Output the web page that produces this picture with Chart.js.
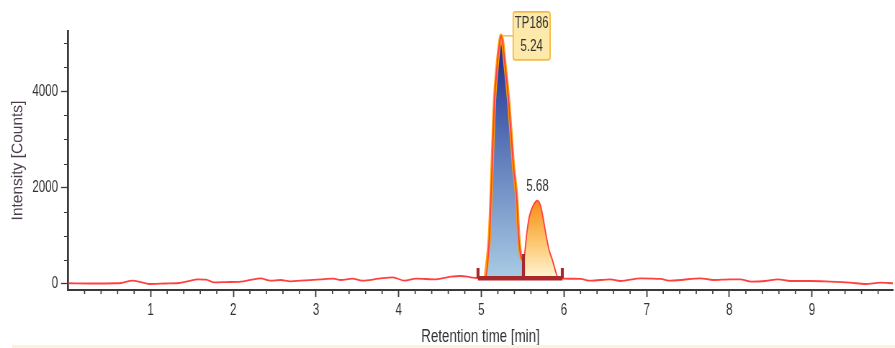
<!DOCTYPE html>
<html>
<head>
<meta charset="utf-8">
<title>Chromatogram</title>
<script src="https://cdn.jsdelivr.net/npm/chart.js@4.4.1/dist/chart.umd.min.js"></script>
<style>
  html, body { margin: 0; padding: 0; background: #ffffff; overflow: hidden; }
  #frame { position: relative; width: 895px; height: 348px; overflow: hidden; }
  #squeeze { position: absolute; left: 0; top: 0; height: 348px; transform-origin: 0 0; }
  #strip { position: absolute; left: 12px; right: 0; bottom: 0; height: 3px; background: #fbf3df; }
</style>
</head>
<body>
<div id="frame">
  <div id="squeeze"><canvas id="chart"></canvas></div>
  <div id="strip"></div>
</div>
<script>
// Retention time [min] and detector intensity [counts] of the trace
const traceTime = [0, 0.27, 0.58, 0.64, 0.78, 0.88, 0.98, 1.18, 1.34, 1.46, 1.57, 1.67, 1.76, 1.91, 2.09, 2.21, 2.33, 2.45, 2.57, 2.69, 2.81, 3.06, 3.21, 3.30, 3.44, 3.56, 3.76, 3.93, 4.07, 4.21, 4.45, 4.63, 4.75, 4.87, 4.95, 5.05, 5.10, 5.13, 5.16, 5.19, 5.22, 5.24, 5.29, 5.33, 5.36, 5.39, 5.43, 5.45, 5.48, 5.51, 5.55, 5.58, 5.64, 5.68, 5.72, 5.78, 5.82, 5.86, 5.90, 5.92, 5.96, 6.20, 6.32, 6.56, 6.68, 6.93, 7.17, 7.29, 7.41, 7.65, 7.81, 8.01, 8.13, 8.26, 8.44, 8.59, 8.74, 8.98, 9.22, 9.46, 9.65, 9.83, 9.98];
const traceIntensity = [15, 10, 15, 20, 70, 40, 0, 10, 20, 60, 95, 90, 35, 40, 50, 85, 115, 68, 83, 56, 68, 97, 110, 83, 110, 68, 110, 139, 68, 110, 97, 151, 166, 139, 124, 140, 1049, 2428, 3809, 4498, 4982, 5150, 4498, 3809, 3119, 2428, 1739, 1049, 565, 497, 1049, 1393, 1670, 1730, 1601, 1049, 704, 497, 255, 151, 118, 104, 68, 97, 62, 118, 104, 68, 83, 118, 83, 97, 97, 48, 62, 97, 62, 62, 48, 27, 0, 27, 15];

// Integrated peaks: windows on the trace, names and the integration baseline
const peakNames = ['TP186', ''];
const peakStart = [5.05, 5.51];
const peakEnd = [5.51, 5.92];
const integrationStart = [4.96, 5.51];
const integrationEnd = [5.51, 5.98];
const integrationBaseline = 120;
const integrationMarkTop = [330, 620, 330];

// Axis ticks and titles
const xTickLabels = [1, 2, 3, 4, 5, 6, 7, 8, 9];
const yTickLabels = [0, 2000, 4000];
const xTitle = 'Retention time [min]';
const yTitle = 'Intensity [Counts]';

// The plot is drawn on a wider canvas and squeezed horizontally (condensed look)
const PAGE_W = 895, PAGE_H = 348;
const SQUEEZE = 0.72;
const CANVAS_W = Math.round(PAGE_W / SQUEEZE);
const sx = v => v / SQUEEZE;          // horizontal page pixels -> canvas pixels

const FONT = "'Liberation Sans', Arial, sans-serif";
const AXIS_COLOR = '#3a3a3a';
const TEXT_COLOR = '#333333';
const Y_TITLE_COLOR = '#4a3d4c';

const squeezeBox = document.getElementById('squeeze');
squeezeBox.style.width = CANVAS_W + 'px';
squeezeBox.style.transform = 'scaleX(' + SQUEEZE + ')';
const canvas = document.getElementById('chart');
canvas.width = CANVAS_W;
canvas.height = PAGE_H;
canvas.style.width = CANVAS_W + 'px';
canvas.style.height = PAGE_H + 'px';

const trace = traceTime.map((t, i) => ({ x: t, y: traceIntensity[i] }));

function peakPoints(k) {
  return trace.filter(p => p.x >= peakStart[k] - 1e-9 && p.x <= peakEnd[k] + 1e-9);
}
function apexOf(k) {
  return peakPoints(k).reduce((a, b) => (b.y > a.y ? b : a));
}

const peakGradients = [
  [[0, '#17258a'], [0.45, '#5a76b8'], [1, '#a9cce4']],
  [[0, '#f78c14'], [0.5, '#fcc468'], [1, '#fff5d4']]
];

function peakFill(k) {
  return (ctx) => {
    const chart = ctx.chart;
    const y = chart.scales.y;
    if (!chart.chartArea || !y) return peakGradients[k][1][1];
    const top = y.getPixelForValue(apexOf(k).y);
    const bottom = y.getPixelForValue(integrationBaseline);
    const g = chart.ctx.createLinearGradient(0, top, 0, bottom);
    peakGradients[k].forEach(([s, c]) => g.addColorStop(s, c));
    return g;
  };
}

// Integration bar: one baseline plus vertical marks at each boundary
const boundaries = [integrationStart[0], integrationEnd[0], integrationEnd[1]];
const markDatasets = boundaries.map((b, i) => ({
  data: [{ x: b, y: integrationBaseline }, { x: b, y: integrationMarkTop[i] }],
  borderColor: '#a8282c',
  borderWidth: sx(3),
  borderCapStyle: 'butt',
  pointRadius: 0,
  tension: 0,
  fill: false,
  order: 0
}));

const datasets = [
  {
    data: [{ x: integrationStart[0], y: integrationBaseline }, { x: integrationEnd[1], y: integrationBaseline }],
    borderColor: '#a8282c',
    borderWidth: 4.5,
    borderCapStyle: 'butt',
    pointRadius: 0,
    tension: 0,
    fill: false,
    order: 0
  },
  ...markDatasets,
  {
    data: trace,
    borderColor: '#ff4040',
    borderWidth: 1.8,
    pointRadius: 0,
    cubicInterpolationMode: 'monotone',
    fill: false,
    order: 1
  },
  {
    data: peakPoints(0),
    borderColor: '#ff9c0a',
    borderWidth: 4.5,
    backgroundColor: peakFill(0),
    pointRadius: 0,
    cubicInterpolationMode: 'monotone',
    fill: { value: integrationBaseline },
    order: 2
  },
  {
    data: peakPoints(1),
    borderColor: 'rgba(0,0,0,0)',
    borderWidth: 0,
    backgroundColor: peakFill(1),
    pointRadius: 0,
    cubicInterpolationMode: 'monotone',
    fill: { value: integrationBaseline },
    order: 2
  }
];

// Short unlabeled ticks between the labeled ones
const minorTicks = {
  id: 'minorTicks',
  afterDraw(chart) {
    const { ctx, chartArea, scales: { x, y } } = chart;
    ctx.save();
    ctx.strokeStyle = AXIS_COLOR;
    ctx.lineWidth = sx(1.2);
    ctx.beginPath();
    for (let k = 1; k * 0.2 <= x.max + 1e-9; k++) {
      if (k % 5 === 0) continue;
      const px = x.getPixelForValue(k * 0.2);
      ctx.moveTo(px, chartArea.bottom + 1);
      ctx.lineTo(px, chartArea.bottom + 4);
    }
    ctx.stroke();
    ctx.lineWidth = 1.2;
    ctx.beginPath();
    for (let v = 500; v <= y.max; v += 500) {
      if (v % 2000 === 0) continue;
      const py = Math.round(y.getPixelForValue(v)) + 0.5;
      ctx.moveTo(chartArea.left - sx(1), py);
      ctx.lineTo(chartArea.left - sx(4), py);
    }
    ctx.stroke();
    ctx.restore();
  }
};

// Vertical axis title, drawn at natural width (undoing the horizontal squeeze)
const yAxisTitle = {
  id: 'yAxisTitle',
  afterDraw(chart) {
    const { ctx, chartArea } = chart;
    ctx.save();
    ctx.translate(sx(18), (chartArea.top + chartArea.bottom) / 2);
    ctx.scale(1 / SQUEEZE, 1);
    ctx.rotate(-Math.PI / 2);
    ctx.font = '15.5px ' + FONT;
    ctx.fillStyle = Y_TITLE_COLOR;
    ctx.textAlign = 'center';
    ctx.textBaseline = 'middle';
    ctx.fillText(yTitle, 0, 0);
    ctx.restore();
  }
};

// Apex annotations: boxed name + time for identified peaks, plain time otherwise
const peakLabels = {
  id: 'peakLabels',
  afterDraw(chart) {
    const { ctx, scales: { x, y } } = chart;
    ctx.save();
    ctx.font = '16px ' + FONT;
    ctx.textAlign = 'center';
    ctx.textBaseline = 'middle';
    peakNames.forEach((name, k) => {
      const apex = apexOf(k);
      const px = x.getPixelForValue(apex.x);
      const py = y.getPixelForValue(apex.y);
      const time = apex.x.toFixed(2);
      if (name) {
        const left = px + sx(12), top = py - 24, w = sx(37), h = 48, r = 3;
        ctx.strokeStyle = '#f5bb45';
        ctx.lineWidth = 1.5;
        ctx.beginPath();
        ctx.moveTo(px + sx(2), py);
        ctx.lineTo(left, py);
        ctx.stroke();
        ctx.beginPath();
        ctx.moveTo(left + r, top);
        ctx.lineTo(left + w - r, top);
        ctx.arcTo(left + w, top, left + w, top + r, r);
        ctx.lineTo(left + w, top + h - r);
        ctx.arcTo(left + w, top + h, left + w - r, top + h, r);
        ctx.lineTo(left + r, top + h);
        ctx.arcTo(left, top + h, left, top + h - r, r);
        ctx.lineTo(left, top + r);
        ctx.arcTo(left, top, left + r, top, r);
        ctx.closePath();
        ctx.fillStyle = '#fde9a9';
        ctx.fill();
        ctx.lineWidth = sx(1.3);
        ctx.stroke();
        ctx.fillStyle = TEXT_COLOR;
        ctx.fillText(name, left + w / 2, top + 12);
        ctx.fillText(time, left + w / 2, top + 35);
      } else {
        ctx.fillStyle = TEXT_COLOR;
        ctx.fillText(time, px, py - 14);
      }
    });
    ctx.restore();
  }
};

Chart.defaults.font.family = FONT;
Chart.defaults.color = TEXT_COLOR;

new Chart(canvas, {
  type: 'line',
  data: { datasets },
  plugins: [minorTicks, yAxisTitle, peakLabels],
  options: {
    responsive: false,
    animation: false,
    devicePixelRatio: 1,
    layout: { padding: { top: 31, right: sx(2), left: 0, bottom: 0 } },
    plugins: { legend: { display: false }, tooltip: { enabled: false } },
    scales: {
      x: {
        type: 'linear',
        min: 0,
        max: 9.98,
        afterFit(scale) { scale.height = PAGE_H - 290; },
        afterBuildTicks(scale) { scale.ticks = xTickLabels.map(v => ({ value: v })); },
        border: { display: true, color: AXIS_COLOR, width: 2 },
        grid: { display: true, drawOnChartArea: false, drawTicks: true, tickLength: 7, tickColor: AXIS_COLOR, tickWidth: sx(1.3) },
        ticks: { font: { size: 16 }, color: TEXT_COLOR, padding: 4, maxRotation: 0, autoSkip: false },
        title: { display: true, text: xTitle, font: { size: 18.5 }, color: TEXT_COLOR, padding: { top: 0, bottom: 0 } }
      },
      y: {
        type: 'linear',
        min: -125,
        max: 5250,
        afterFit(scale) { scale.width = sx(68); },
        afterBuildTicks(scale) { scale.ticks = yTickLabels.map(v => ({ value: v })); },
        border: { display: true, color: AXIS_COLOR, width: sx(2) },
        grid: { display: true, drawOnChartArea: false, drawTicks: true, tickLength: sx(7), tickColor: AXIS_COLOR, tickWidth: 1.3 },
        ticks: { font: { size: 16 }, color: TEXT_COLOR, padding: sx(3), callback: v => String(v) },
        title: { display: false }
      }
    }
  }
});
</script>
</body>
</html>
